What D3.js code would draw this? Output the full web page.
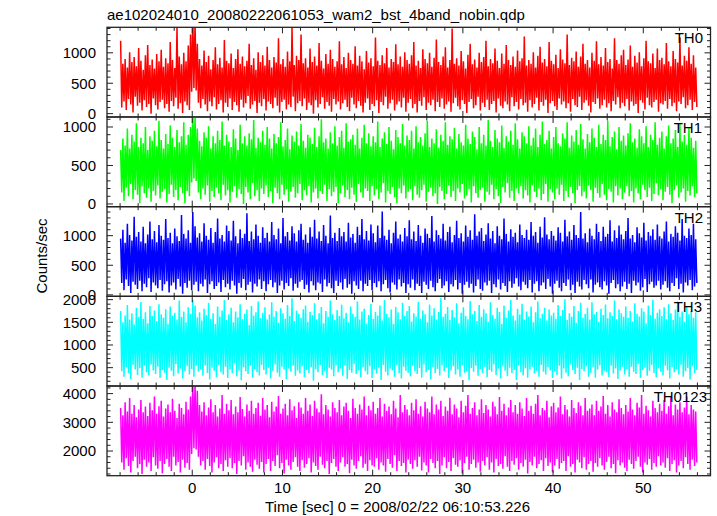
<!DOCTYPE html>
<html>
<head>
<meta charset="utf-8">
<script src="https://cdn.jsdelivr.net/npm/d3@7"></script>
<style>
  html, body { margin: 0; padding: 0; background: #fff; }
  svg { display: block; }
  text { font-family: "Liberation Sans", Arial, Helvetica, sans-serif; fill: #000; }
</style>
</head>
<body>
<svg id="chart" width="717" height="516"></svg>
<script>
// ---------------- DATA ----------------
const title = "ae102024010_20080222061053_wam2_bst_4band_nobin.qdp";
const xLabel = "Time [sec] 0 = 2008/02/22 06:10:53.226";
const yLabel = "Counts/sec";
const bands = ["TH0", "TH1", "TH2", "TH3", "TH0123"];
const bandColors = ["#ff0000", "#00ff00", "#0000ff", "#00ffff", "#ff00ff"];

// time of first bin (sec) and bin width (sec); each bin holds a high and a low sample
const tStart = -7.94;
const binWidth = 0.25;

const xTicks = [0, 10, 20, 30, 40, 50];
const yDomains = [[-55, 1420], [-35, 1130], [-25, 1490], [95, 2073], [1140, 4265]];
const yTickLabels = [[0, 500, 1000], [0, 500, 1000], [0, 500, 1000], [500, 1000, 1500, 2000], [2000, 3000, 4000]];
const yMinorStep = [100, 100, 100, 100, 200];

const th0Hi = [
1200,820,900,760,1010,850,930,780,1080,870,720,960,1130,800,890,740,
980,860,1050,770,910,830,1180,880,750,1420,940,810,1000,860,1120,1300,
1600,1500,1150,900,790,1040,850,950,730,880,1090,810,920,760,1210,870,
830,990,750,900,1060,820,940,780,870,1150,800,910,720,1010,850,960,
790,1100,880,760,930,840,1240,810,900,770,1020,860,1420,800,950,880,
1300,830,910,760,1070,850,940,790,1160,870,740,980,820,1050,900,770,
860,1190,810,930,750,1000,880,820,1110,790,950,860,730,1030,840,910,
780,1250,870,800,960,830,1080,760,900,850,1140,810,940,770,1010,880,
820,960,1180,790,870,750,1060,900,830,1000,770,920,1220,850,800,940,
1090,760,880,1400,820,910,790,1030,860,740,970,1150,810,890,760,1000,
850,930,1200,780,900,830,1070,870,750,990,820,1130,880,800,940,770,
1040,860,910,1270,790,880,820,1010,760,950,1100,840,900,780,1180,870,
810,970,750,1060,890,830,1300,800,920,860,1020,770,940,1150,820,880,
760,1000,870,1190,810,930,790,1080,850,900,740,1240,880,820,960,1050,
800,890,1120,770,950,840,1010,780,910,1200,860,830,990,750,1070,880,
920,810,1160,860,780,1030,900,840,1250,790,950,870,1090,820,960,760];
const th0Lo = [
100,200,60,240,150,20,280,130,180,50,220,110,160,0,250,140,
70,190,230,90,160,30,210,120,260,80,170,10,200,140,60,360,
420,380,180,90,240,150,40,200,120,270,70,160,220,20,180,110,
250,60,190,140,30,230,100,170,290,80,150,210,10,180,120,240,
50,200,160,90,260,130,20,190,230,70,150,110,280,40,170,210,
120,250,60,180,140,0,220,100,160,270,80,190,130,30,240,150,
200,70,170,230,110,40,260,150,90,210,130,20,180,250,60,160,
120,220,10,190,140,280,80,170,230,50,150,200,100,260,30,180,
240,90,160,20,210,130,270,60,180,140,230,40,190,110,250,80,
150,200,30,170,260,120,70,220,160,10,190,240,90,140,280,50,
180,110,230,60,160,210,20,250,130,90,200,150,40,270,120,190,
70,240,140,180,30,220,100,160,260,50,190,130,230,10,170,210,
120,60,250,150,200,90,170,30,240,140,110,280,60,180,220,130,
20,190,160,250,80,140,230,100,170,40,210,150,270,90,180,120,
240,50,200,130,160,10,220,180,70,260,140,100,190,230,30,170,
150,210,80,240,120,180,40,200,160,270,90,140,230,60,190,110];

const th1Hi = [
700,850,760,980,720,900,810,1050,740,860,790,1000,700,880,820,950,
750,1080,830,720,910,780,1020,860,740,960,800,880,1060,770,900,1000,
1250,1150,980,820,750,930,860,1010,720,880,790,950,830,1070,760,900,
810,740,970,850,700,1030,790,880,760,920,840,1090,730,860,800,950,
770,1000,850,720,910,790,870,1060,750,830,980,710,890,810,940,760,
1040,820,730,900,860,780,990,740,880,1100,800,850,720,930,790,1010,
760,870,950,730,1050,810,840,900,770,980,720,860,1030,790,920,750,
880,800,1070,740,850,930,780,1000,820,710,960,870,790,1040,760,890,
830,950,720,1010,800,870,760,920,1080,740,850,790,970,730,900,820,
1060,770,880,840,990,720,910,800,760,1030,850,780,940,870,710,1000,
790,900,760,1090,820,740,960,850,800,1020,730,880,810,950,770,1050,
840,720,930,880,790,1010,760,860,980,740,900,1070,780,830,950,720,
870,1000,790,750,920,850,1060,730,890,810,960,770,1040,840,720,910,
800,980,860,740,1030,780,900,830,1080,750,870,940,710,1000,820,890,
760,920,1050,800,850,730,970,880,790,1010,740,900,830,1060,770,860,
940,720,880,1020,790,850,960,740,1040,810,900,770,990,860,730,820];
const th1Lo = [
150,40,210,100,260,60,180,120,10,230,140,80,200,30,170,110,
240,70,160,190,20,130,250,90,180,50,220,140,10,170,100,280,
330,300,150,60,200,120,240,30,170,90,210,140,50,250,110,180,
20,160,230,80,190,130,0,220,150,60,270,100,180,40,200,130,
240,90,170,10,210,140,60,250,120,190,30,160,220,80,140,260,
50,180,110,230,20,150,200,70,170,130,250,40,190,100,160,220,
10,140,240,90,180,60,210,120,30,260,150,80,200,170,40,230,
110,190,60,150,270,20,170,130,220,90,10,200,140,240,70,160,
190,50,230,120,80,180,250,30,160,210,100,140,0,220,170,60,
130,240,90,170,40,200,150,260,70,110,190,20,230,140,80,180,
210,30,160,120,250,60,190,100,10,220,150,270,80,170,40,200,
140,230,70,180,110,20,240,160,90,200,50,130,260,30,190,150,
60,200,120,250,40,170,90,220,140,10,180,230,100,160,70,240,
180,30,210,140,80,260,120,50,190,160,20,230,110,200,60,150,
230,100,170,20,200,140,60,250,180,90,210,40,130,270,110,190,
50,160,220,120,10,180,240,80,150,200,30,170,110,230,90,140];

const th2Hi = [
950,1100,880,1200,1010,920,1320,980,1060,900,1150,870,1020,1240,940,1080,
890,1180,1000,930,1280,960,1050,870,1120,990,910,1350,1030,950,1090,880,
1400,1160,970,1040,900,1210,1000,930,1130,880,1060,1290,950,1010,900,1170,
1080,920,1250,990,870,1110,960,1030,1380,910,1070,940,1190,1000,880,1140,
960,1050,900,1230,1010,940,1120,870,1300,990,1060,920,1160,1040,900,1090,
1200,930,1020,880,1140,980,1270,950,1070,910,1180,1000,870,1340,960,1050,
910,1130,990,1060,900,1220,970,1030,880,1150,1010,1280,940,1080,920,1190,
1040,890,1170,960,1410,1000,930,1100,870,1050,1240,950,1020,900,1130,990,
1260,940,1070,910,1180,1000,880,1120,1030,960,1330,900,1090,1010,950,1200,
920,1060,1150,890,1010,1250,960,1040,900,1170,980,1090,930,1360,1000,1070,
1130,910,1020,1210,950,1080,870,1160,1000,940,1290,1030,900,1110,980,1050,
890,1190,1010,960,1100,930,1230,1000,1060,880,1150,970,1310,1020,940,1080,
1000,920,1140,1050,900,1270,990,1070,930,1180,1010,960,1400,950,1040,890,
1120,1000,940,1200,1060,910,1150,980,1030,1260,900,1090,960,1170,1020,940,
1080,1300,950,1010,890,1140,1040,970,1220,920,1060,1000,1110,930,1190,990,
950,1070,1240,900,1030,980,1160,1050,920,1280,1000,960,1120,1010,1200,940];
const th2Lo = [
200,80,260,150,30,220,170,100,240,60,190,130,280,50,210,160,
110,250,70,180,230,40,160,210,90,270,140,20,200,120,240,80,
170,220,60,190,140,260,30,180,230,100,150,210,50,250,130,190,
90,240,160,20,200,120,270,80,170,220,40,190,140,260,100,230,
60,180,250,130,210,30,160,240,90,200,150,280,70,190,120,220,
250,100,170,40,230,160,80,210,190,50,260,140,200,110,30,240,
150,210,90,270,120,180,20,230,160,100,240,60,190,150,250,80,
200,130,230,60,180,250,110,40,210,170,90,260,140,200,30,180,
120,260,80,190,150,30,220,170,100,240,130,60,200,270,110,160,
230,50,180,140,250,90,200,20,170,220,120,190,40,150,260,100,
70,210,160,240,30,180,130,260,90,200,150,50,230,120,190,280,
140,80,220,170,110,250,40,190,230,60,160,210,100,270,140,20,
190,240,120,60,200,150,260,80,170,30,220,140,90,250,180,110,
260,40,170,210,130,90,230,160,20,200,250,110,180,60,140,220,
100,190,30,240,160,210,70,130,270,50,180,220,120,160,240,90,
170,230,120,60,200,150,280,100,190,40,210,160,250,80,140,200];

const th3Hi = [
1750,1500,1650,1880,1560,1700,1450,1820,1620,1950,1580,1720,1480,1860,1640,1760,
1530,1900,1680,1600,1790,1470,1850,1650,1710,1560,1980,1620,1740,1500,1830,1690,
2000,1870,1610,1720,1540,1800,1660,1930,1580,1700,1460,1850,1630,1760,1990,1550,
1680,1820,1500,1740,1610,1900,1570,1690,1780,1440,1860,1650,1720,1960,1590,1710,
1830,1560,1670,1940,1620,1750,1490,1810,1700,1580,1880,1640,2030,1530,1760,1690,
1600,1790,1870,1510,1730,1660,1920,1570,1700,1840,1480,1750,1620,1980,1680,1550,
1770,1640,1890,1590,1710,1500,1850,1690,1620,1960,1560,1740,1800,1470,1660,1910,
1580,1730,1650,1870,1540,1990,1690,1610,1780,1460,1840,1720,1570,1930,1640,1750,
1860,1520,1700,1630,1950,1580,1760,1680,1500,1890,1650,1810,1560,1730,2040,1620,
1690,1840,1550,1770,1610,1920,1480,1710,1830,1640,1570,1970,1680,1750,1530,1880,
1620,1790,1700,1510,1940,1660,1580,1820,1730,1460,1870,1600,1760,1990,1650,1540,
1800,1670,1910,1560,1740,1630,1850,1500,1720,1960,1590,1690,1820,1540,1780,1650,
1710,1580,1880,1640,1770,2010,1550,1700,1620,1860,1490,1750,1930,1600,1690,1820,
1560,1940,1680,1730,1510,1800,1660,1890,1590,1720,1640,1980,1570,1780,1700,1620,
1850,1600,1750,1520,1920,1690,1630,1810,1740,1480,1870,1660,2000,1580,1710,1790,
1640,1830,1570,1900,1700,1550,1780,1960,1620,1740,1510,1860,1680,1750,1600,1720];
const th3Lo = [
420,300,510,380,250,560,460,340,490,280,540,400,330,570,440,360,
520,270,450,390,230,500,430,310,580,370,480,260,420,530,350,470,
300,540,410,460,320,550,380,240,500,430,290,560,400,350,520,270,
460,380,590,310,440,220,510,420,360,540,280,470,400,330,560,450,
350,500,260,430,570,390,300,520,460,250,480,410,540,320,440,370,
530,290,450,380,510,210,470,400,560,340,430,270,500,460,310,550,
400,480,320,540,250,450,390,580,360,440,290,510,420,350,530,270,
460,370,500,230,560,410,330,480,440,300,550,380,260,520,430,390,
310,540,420,360,490,280,570,400,450,240,510,380,470,330,550,420,
500,270,440,530,350,460,300,560,390,420,220,490,410,540,320,470,
380,520,290,450,410,570,340,480,260,530,430,310,500,380,450,230,
550,400,330,490,280,460,520,370,430,300,560,410,350,510,440,270,
420,340,540,260,480,390,310,570,450,360,500,230,470,420,530,300,
390,510,280,460,550,330,430,400,290,540,370,480,250,440,520,350,
470,300,520,410,360,580,270,450,500,320,430,560,380,290,490,410,
330,540,440,260,510,400,470,350,560,300,420,490,240,530,380,450];

const th0123Hi = [
3500,3250,3700,3380,3850,3300,3600,3180,3450,3780,3350,3550,3220,3680,3420,3900,
3300,3560,3750,3200,3480,3620,3350,3820,3400,3150,3650,3500,3280,3720,3450,3900,
4400,4350,4100,3600,3380,3700,3250,3520,3800,3350,3600,3200,3480,3950,3300,3650,
3420,3780,3280,3550,3350,3880,3460,3200,3620,3400,3750,3300,3500,3680,3230,3850,
3450,3600,3180,3720,3380,3550,3920,3300,3480,3650,3250,3800,3420,3560,3150,3700,
3520,3300,3850,3400,3620,3220,3750,3480,3350,3980,3280,3600,3450,3200,3700,3500,
3350,3780,3250,3550,3680,3400,3150,3820,3500,3300,3620,3450,3900,3250,3580,3420,
3720,3300,3500,3850,3200,3650,3400,3550,3280,3750,3480,3180,3950,3350,3600,3450,
3250,3680,3420,3800,3300,3560,3200,3720,3480,3350,3900,3280,3620,3450,3750,3220,
3550,3400,3860,3280,3620,3480,3180,3750,3350,3580,3950,3300,3500,3700,3250,3450,
3800,3320,3600,3450,3200,3720,3550,3280,3880,3400,3650,3250,3520,3780,3350,3600,
3300,3700,3480,3220,3850,3400,3580,3300,3650,3950,3250,3500,3420,3750,3180,3560,
3680,3350,3520,3900,3280,3600,3450,3200,3780,3500,3320,3700,3580,3250,3850,3400,
3480,3620,3250,3750,3400,3550,3920,3300,3600,3200,3700,3450,3350,3800,3500,3280,
3600,3380,3850,3450,3250,3680,3520,3950,3300,3580,3420,3200,3750,3500,3350,3650,
3400,3780,3300,3560,3880,3250,3620,3450,3700,3350,3520,3900,3280,3600,3450,3380];
const th0123Lo = [
1600,1350,1750,1480,1250,1650,1800,1400,1550,1200,1700,1450,1600,1300,1780,1500,
1380,1650,1220,1550,1720,1450,1300,1800,1500,1620,1250,1700,1420,1580,1350,1900,
2100,2050,1800,1500,1650,1350,1720,1480,1250,1600,1780,1400,1550,1300,1680,1450,
1750,1400,1580,1200,1650,1500,1820,1350,1600,1450,1280,1700,1520,1380,1620,1250,
1550,1720,1300,1650,1480,1850,1400,1580,1220,1700,1500,1350,1620,1780,1450,1300,
1680,1420,1550,1750,1250,1600,1480,1350,1800,1520,1400,1650,1200,1580,1720,1450,
1300,1600,1780,1450,1550,1230,1700,1500,1380,1650,1820,1420,1560,1300,1680,1500,
1450,1750,1350,1600,1500,1280,1720,1550,1420,1850,1300,1650,1480,1580,1250,1700,
1550,1380,1680,1450,1800,1320,1600,1500,1250,1720,1580,1400,1650,1200,1500,1780,
1400,1620,1300,1750,1520,1450,1680,1220,1580,1800,1350,1550,1700,1420,1600,1280,
1650,1500,1780,1350,1600,1250,1720,1480,1550,1380,1820,1450,1300,1650,1520,1750,
1350,1580,1450,1700,1220,1620,1500,1800,1400,1550,1680,1300,1750,1480,1600,1250,
1500,1720,1380,1580,1650,1300,1820,1450,1550,1250,1700,1600,1400,1780,1350,1550,
1650,1280,1580,1450,1750,1500,1350,1620,1800,1400,1550,1230,1680,1500,1600,1420,
1300,1700,1550,1380,1650,1800,1450,1250,1600,1520,1720,1350,1580,1450,1820,1500,
1600,1420,1750,1300,1550,1680,1250,1500,1650,1400,1780,1550,1350,1700,1480,1600];

const highs = [th0Hi, th1Hi, th2Hi, th3Hi, th0123Hi];
const lows = [th0Lo, th1Lo, th2Lo, th3Lo, th0123Lo];

// ---------------- LAYOUT ----------------
const W = 717, H = 516;
const plotLeft = 107, plotRight = 710.5;
const plotTop = 27.3, panelH = 89.68;
const labelRight = [703, 702, 703, 702, 707];

const svg = d3.select("#chart");
svg.append("rect").attr("width", W).attr("height", H).attr("fill", "#fff");

const x = d3.scaleLinear().domain([-9.45, 57.45]).range([plotLeft, plotRight]);
const xMinor = d3.range(-8, 57, 2);

bands.forEach((name, k) => {
  const top = plotTop + k * panelH;
  const bottom = top + panelH;
  const y = d3.scaleLinear().domain(yDomains[k]).range([bottom, top]);

  const clipId = "clip" + k;
  svg.append("clipPath").attr("id", clipId)
    .append("rect").attr("x", plotLeft).attr("y", top)
    .attr("width", plotRight - plotLeft).attr("height", panelH);

  // sample sequence: high sample at bin start, low sample half a bin later
  const pts = [];
  highs[k].forEach((v, i) => {
    const t = tStart + i * binWidth;
    pts.push([t, v]);
    pts.push([t + binWidth / 2, lows[k][i]]);
  });

  const line = d3.line().x(d => x(d[0])).y(d => y(d[1]));
  svg.append("path")
    .attr("clip-path", `url(#${clipId})`)
    .attr("d", line(pts))
    .attr("fill", "none")
    .attr("stroke", bandColors[k])
    .attr("stroke-width", 1.5)
    .attr("stroke-linejoin", "bevel");

  const g = svg.append("g").attr("stroke", "#222").attr("stroke-width", 1);

  // y ticks (minor + major) on both sides, pointing inward
  const [y0, y1] = yDomains[k];
  const step = yMinorStep[k];
  const yMinor = d3.range(Math.ceil(y0 / step) * step, y1 + 1e-6, step);
  yMinor.forEach(v => {
    const isMajor = yTickLabels[k].includes(v) || v % (step * 5) === 0;
    const len = isMajor ? 6 : 3.5;
    const yy = y(v);
    g.append("line").attr("x1", plotLeft).attr("x2", plotLeft + len).attr("y1", yy).attr("y2", yy);
    g.append("line").attr("x1", plotRight).attr("x2", plotRight - len).attr("y1", yy).attr("y2", yy);
  });

  // x ticks at top and bottom of each panel
  xMinor.forEach(t => {
    const isMajor = t % 10 === 0;
    const len = isMajor ? 6 : 3.5;
    const xx = x(t);
    g.append("line").attr("x1", xx).attr("x2", xx).attr("y1", top).attr("y2", top + len);
    g.append("line").attr("x1", xx).attr("x2", xx).attr("y1", bottom).attr("y2", bottom - len);
  });

  // frame
  svg.append("rect").attr("x", plotLeft).attr("y", top)
    .attr("width", plotRight - plotLeft).attr("height", panelH)
    .attr("fill", "none").attr("stroke", "#222").attr("stroke-width", 1.3);

  // y tick labels
  yTickLabels[k].forEach(v => {
    svg.append("text")
      .attr("x", 96).attr("y", y(v))
      .attr("dy", "0.36em")
      .attr("text-anchor", "end")
      .attr("font-size", 15)
      .text(v);
  });

  // band label
  svg.append("text")
    .attr("x", labelRight[k]).attr("y", top + 16)
    .attr("text-anchor", "end")
    .attr("font-size", 15)
    .text(name);
});

// x tick labels
const bottomY = plotTop + 5 * panelH;
xTicks.forEach(t => {
  svg.append("text")
    .attr("x", x(t)).attr("y", bottomY + 17)
    .attr("text-anchor", "middle")
    .attr("font-size", 15)
    .text(t);
});

// axis titles
svg.append("text")
  .attr("x", 397.5).attr("y", 512)
  .attr("text-anchor", "middle")
  .attr("font-size", 15)
  .text(xLabel);

svg.append("text")
  .attr("transform", "translate(47,256) rotate(-90)")
  .attr("text-anchor", "middle")
  .attr("font-size", 15)
  .text(yLabel);

svg.append("text")
  .attr("x", 107).attr("y", 19.5)
  .attr("font-size", 15)
  .text(title);
</script>
</body>
</html>
